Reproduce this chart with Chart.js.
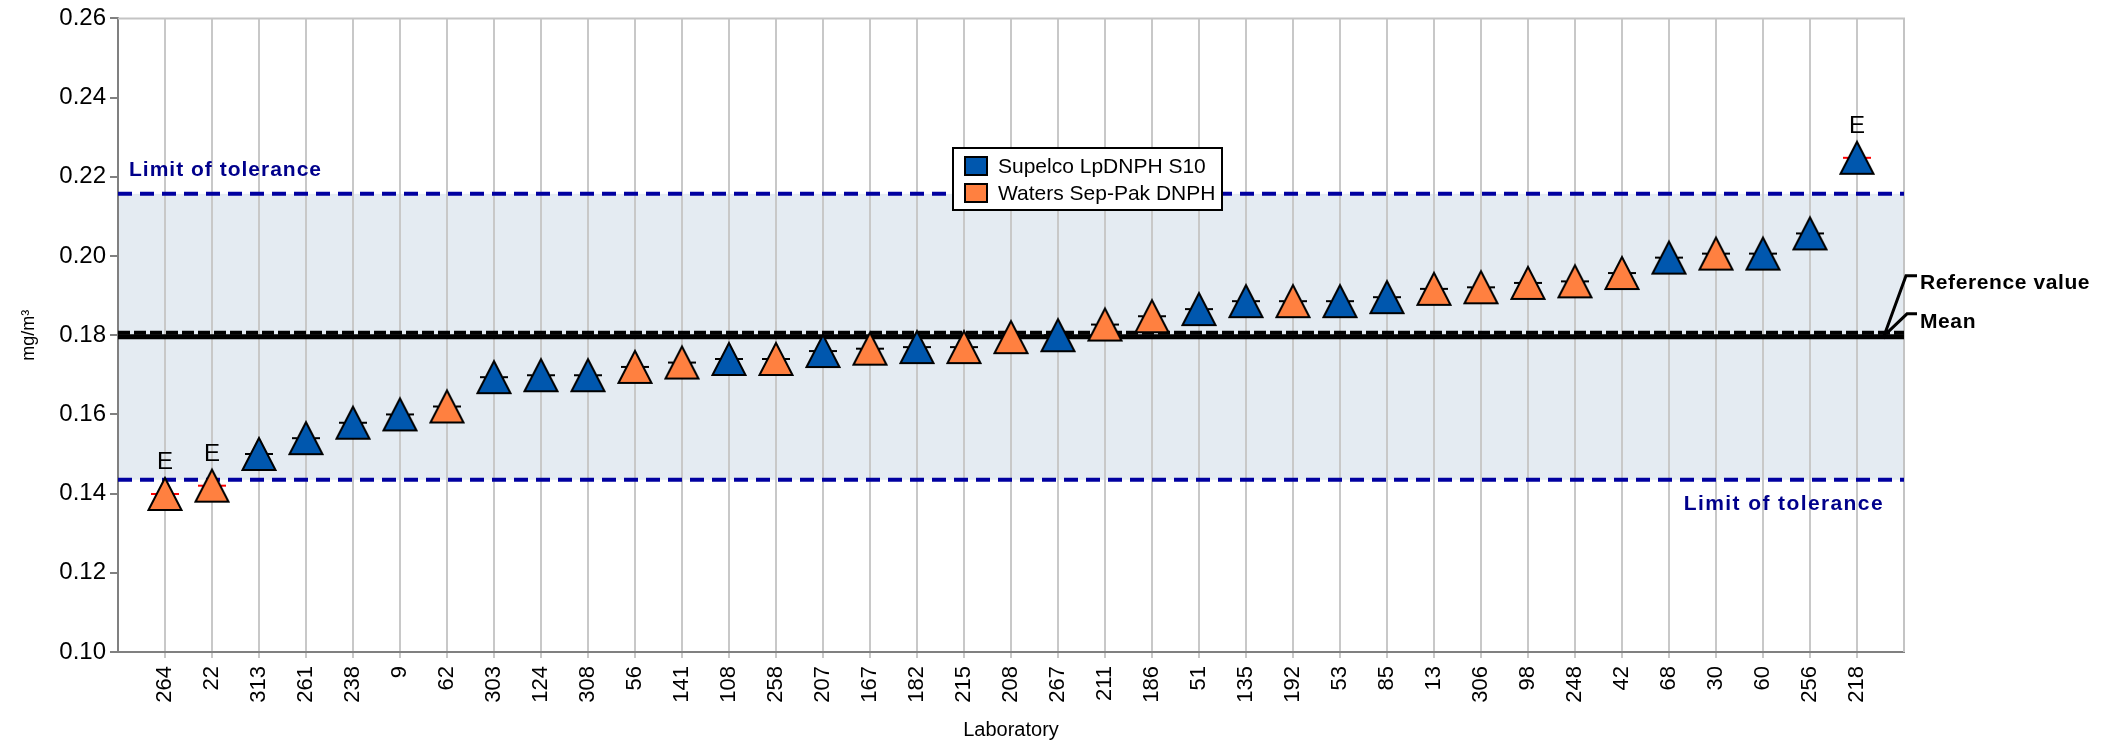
<!DOCTYPE html>
<html>
<head>
<meta charset="utf-8">
<script src="https://cdn.jsdelivr.net/npm/chart.js@4"></script>
<style>
  html, body { margin: 0; padding: 0; background: #fff; }
  #wrap { width: 2103px; height: 744px; position: relative; }
</style>
</head>
<body>
<div id="wrap"><canvas id="chart"></canvas></div>
<script>
// laboratories in plotted order, measured mean (mg/m³), and the sampler each one used
const labs = ['264','22','313','261','238','9','62','303','124','308','56','141','108','258','207','167','182','215','208','267',
              '211','186','51','135','192','53','85','13','306','98','248','42','68','30','60','256','218'];
const values = [0.1399,0.1420,0.1500,0.1540,0.1579,0.1600,0.1620,0.1694,0.1699,0.1699,0.1720,0.1731,0.1740,0.1740,0.1760,0.1766,
                0.1770,0.1770,0.1795,0.1800,0.1827,0.1848,0.1866,0.1886,0.1886,0.1886,0.1896,0.1917,0.1921,0.1932,0.1936,0.1957,
                0.1996,0.2006,0.2006,0.2057,0.2248];
const kits = ['W','W','S','S','S','S','W','S','S','S','W','W','S','W','S','W','S','W','W','S',
              'W','W','S','S','W','S','S','W','W','W','W','W','S','W','S','S','S'];
const outliers = ['264','22','218']; // flagged "E"

const seriesKeys   = ['S', 'W'];
const seriesNames  = ['Supelco LpDNPH S10', 'Waters Sep-Pak DNPH'];
const seriesColors = ['#0057ae', '#ff8040'];

const refValue  = 0.1796;
const meanValue = 0.1806;
const tolLow    = 0.1435;
const tolHigh   = 0.2157;

const FONT = '"Liberation Sans", Arial, sans-serif';

// ── triangle marker with the value dash behind it ─────────────
function makeMarker(fill, dashColor) {
  const c = document.createElement('canvas');
  c.width = 40; c.height = 38;
  const g = c.getContext('2d');
  const cx = 20, cy = 19;
  g.strokeStyle = dashColor;
  g.lineWidth = 2;
  g.beginPath();
  g.moveTo(cx - 14, cy); g.lineTo(cx + 14, cy);
  g.stroke();
  g.beginPath();
  g.moveTo(cx, cy - 16);
  g.lineTo(cx + 16.5, cy + 16);
  g.lineTo(cx - 16.5, cy + 16);
  g.closePath();
  g.fillStyle = fill;
  g.fill();
  g.lineJoin = 'miter';
  g.strokeStyle = '#000';
  g.lineWidth = 2;
  g.stroke();
  return c;
}

const markers = seriesColors.map(col => ({ ok: makeMarker(col, '#000'), bad: makeMarker(col, '#ff0000') }));

const pointDatasets = seriesKeys.map((k, s) => {
  const pts = [];
  labs.forEach((lab, i) => {
    if (kits[i] === k) pts.push({ x: i + 1, y: values[i], lab });
  });
  return {
    type: 'scatter',
    label: seriesNames[s],
    data: pts,
    backgroundColor: seriesColors[s],
    pointStyle: pts.map(p => outliers.includes(p.lab) ? markers[s].bad : markers[s].ok),
    pointRadius: 16,
    order: 0,
  };
});

const hLine = (y, color, width, dash) => ({
  type: 'line',
  data: [{ x: 0, y }, { x: labs.length + 1, y }],
  borderColor: color,
  borderWidth: width,
  borderDash: dash,
  pointRadius: 0,
  order: 5,
});

// ── extras: band, borders, labels, legend ────────────────────
const extras = {
  id: 'extras',
  beforeDraw(chart) {
    const { ctx, chartArea: a, scales: { y } } = chart;
    ctx.save();
    ctx.fillStyle = '#e4ebf2';
    const t = y.getPixelForValue(tolHigh), b = y.getPixelForValue(tolLow);
    ctx.fillRect(a.left, t, a.right - a.left, b - t);
    ctx.restore();
  },
  beforeDatasetsDraw(chart) {
    const { ctx, chartArea: a } = chart;
    ctx.save();
    ctx.strokeStyle = '#c4c4c4';
    ctx.lineWidth = 2;
    ctx.beginPath();
    ctx.moveTo(a.left, a.top); ctx.lineTo(a.right, a.top); ctx.lineTo(a.right, a.bottom);
    ctx.stroke();
    ctx.restore();
  },
  afterDraw(chart) {
    const { ctx, chartArea: a, scales: { x, y } } = chart;
    ctx.save();

    // E flags
    ctx.fillStyle = '#000';
    ctx.font = '24px ' + FONT;
    ctx.textAlign = 'center';
    ctx.textBaseline = 'alphabetic';
    labs.forEach((lab, i) => {
      if (!outliers.includes(lab)) return;
      ctx.fillText('E', x.getPixelForValue(i + 1), y.getPixelForValue(values[i]) - 25);
    });

    // tolerance labels
    ctx.fillStyle = '#00008b';
    ctx.font = 'bold 21px ' + FONT;
    ctx.letterSpacing = '1px';
    ctx.textAlign = 'left';
    ctx.fillText('Limit of tolerance', a.left + 11, y.getPixelForValue(tolHigh) - 18);
    ctx.textAlign = 'right';
    ctx.letterSpacing = '1.4px';
    ctx.fillText('Limit of tolerance', a.right - 20, y.getPixelForValue(tolLow) + 30);

    // reference / mean labels with leaders
    const yr = y.getPixelForValue(refValue), ym = y.getPixelForValue(meanValue);
    ctx.strokeStyle = '#000';
    ctx.lineWidth = 3;
    ctx.beginPath();
    ctx.moveTo(a.right - 21, yr + 2); ctx.lineTo(a.right + 2, yr - 61); ctx.lineTo(a.right + 13, yr - 61);
    ctx.moveTo(a.right - 18, ym + 1); ctx.lineTo(a.right + 3, ym - 19); ctx.lineTo(a.right + 13, ym - 19);
    ctx.stroke();
    ctx.fillStyle = '#000';
    ctx.textAlign = 'left';
    ctx.textBaseline = 'middle';
    ctx.letterSpacing = '0.6px';
    ctx.fillText('Reference value', a.right + 16, yr - 54);
    ctx.fillText('Mean', a.right + 16, ym - 11);
    ctx.letterSpacing = '0px';

    // legend box
    const lx = 953, ly = 148, lw = 269, lh = 62;
    ctx.fillStyle = '#fff';
    ctx.fillRect(lx, ly, lw, lh);
    ctx.strokeStyle = '#000';
    ctx.lineWidth = 2;
    ctx.strokeRect(lx, ly, lw, lh);
    ctx.font = '21px ' + FONT;
    seriesNames.forEach((name, s) => {
      const cy = ly + 18 + s * 27;
      ctx.fillStyle = seriesColors[s];
      ctx.fillRect(lx + 12, cy - 9, 22, 18);
      ctx.strokeRect(lx + 12, cy - 9, 22, 18);
      ctx.fillStyle = '#000';
      ctx.fillText(name, lx + 45, cy + 1);
    });
    ctx.restore();
  }
};

new Chart(document.getElementById('chart'), {
  data: {
    datasets: [
      ...pointDatasets,
      hLine(tolHigh, '#0000a0', 4, [14, 8]),
      hLine(tolLow, '#0000a0', 4, [14, 8]),
      hLine(refValue, '#000', 5, []),
      hLine(meanValue, '#000', 4, [12, 4]),
    ]
  },
  options: {
    responsive: true,
    maintainAspectRatio: false,
    animation: false,
    layout: { padding: { left: 0, right: 199, top: 16, bottom: 0 } },
    plugins: {
      legend: { display: false },
      tooltip: { enabled: false },
    },
    scales: {
      x: {
        type: 'linear',
        min: 0,
        max: labs.length + 1,
        afterBuildTicks: scale => { scale.ticks = labs.map((_, i) => ({ value: i + 1 })); },
        afterFit: scale => { scale.height = 92; },
        ticks: {
          autoSkip: false,
          minRotation: 90,
          maxRotation: 90,
          padding: 8,
          color: '#000',
          font: { family: FONT, size: 22 },
          callback: v => labs[v - 1] || '',
        },
        grid: { color: '#c8c8c8', lineWidth: 2, tickLength: 6 },
        border: { color: '#808080', width: 2 },
        title: { display: true, text: 'Laboratory', color: '#000', font: { family: FONT, size: 20 }, padding: { top: 0, bottom: 2 } },
      },
      y: {
        min: 0.10,
        max: 0.26,
        afterFit: scale => { scale.width = 118; },
        ticks: {
          stepSize: 0.02,
          padding: 4,
          color: '#000',
          font: { family: FONT, size: 24 },
          callback: v => v.toFixed(2),
        },
        grid: { drawOnChartArea: false, color: '#808080', lineWidth: 2, tickLength: 8 },
        border: { color: '#808080', width: 2 },
        title: { display: true, text: 'mg/m³', color: '#000', font: { family: FONT, size: 18 }, padding: { top: 18, bottom: 0 } },
      }
    }
  },
  plugins: [extras]
});
</script>
</body>
</html>
